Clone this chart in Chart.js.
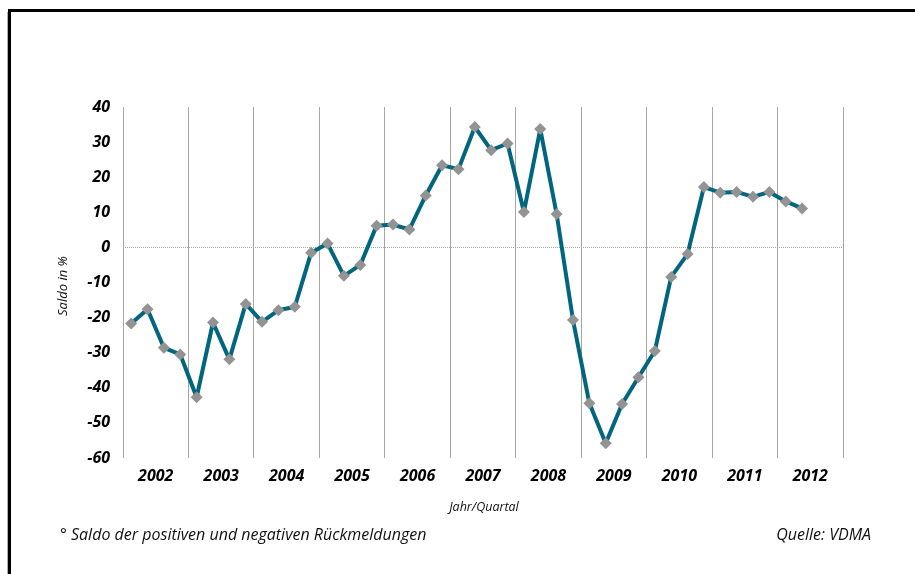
<!DOCTYPE html>
<html>
<head>
<meta charset="utf-8">
<script src="https://cdn.jsdelivr.net/npm/chart.js@4/dist/chart.umd.min.js"></script>
<style>
  html, body { margin: 0; padding: 0; background: #fff; }
  #wrap { position: relative; width: 915px; height: 574px; }
</style>
</head>
<body>
<div id="wrap"><canvas id="chart" width="915" height="574"></canvas></div>
<script>
// Jahre (Achsenbeschriftung) und Quartale 2002 Q1 - 2012 Q4
const years = ['2002', '2003', '2004', '2005', '2006', '2007', '2008', '2009', '2010', '2011', '2012'];
const quarters = years.flatMap(y => ['Q1', 'Q2', 'Q3', 'Q4'].map(q => y + ' ' + q));

// Saldo in % (bis 2012 Q2)
const saldo = [
  -21.7, -17.6, -28.6, -30.5,
  -42.7, -21.4, -31.9, -16.1,
  -21.2, -17.9, -16.9, -1.5,
  1.1, -8.1, -5.0, 6.2,
  6.5, 5.1, 14.8, 23.4,
  22.3, 34.3, 27.7, 29.6,
  10.1, 33.7, 9.5, -20.7,
  -44.4, -55.8, -44.6, -37.0,
  -29.5, -8.4, -1.9, 17.2,
  15.6, 15.8, 14.4, 15.8,
  13.1, 11.1
];

const yTicks = [40, 30, 20, 10, 0, -10, -20, -30, -40, -50, -60];

const footnote = '\u00B0 Saldo der positiven und negativen R\u00FCckmeldungen';
const source = 'Quelle: VDMA';
const xTitle = 'Jahr/Quartal';
const yTitle = 'Saldo in %';

const fontFamily = '"Open Sans", "DejaVu Sans", sans-serif';

// Rahmen und Zusatztexte
const extrasPlugin = {
  id: 'extras',
  beforeDraw(chart) {
    const ctx = chart.ctx;
    ctx.save();
    ctx.fillStyle = '#fff';
    ctx.fillRect(0, 0, chart.width, chart.height);
    ctx.strokeStyle = '#b0b0b0';
    ctx.lineWidth = 1;
    ctx.beginPath();
    ctx.moveTo(7.5, 12);
    ctx.lineTo(7.5, chart.height);
    ctx.stroke();
    ctx.strokeStyle = '#000';
    ctx.lineWidth = 3;
    ctx.beginPath();
    ctx.moveTo(9.5, chart.height);
    ctx.lineTo(9.5, 10.5);
    ctx.lineTo(chart.width, 10.5);
    ctx.stroke();
    ctx.restore();
  },
  afterDraw(chart) {
    const ctx = chart.ctx;
    const area = chart.chartArea;
    ctx.save();
    ctx.fillStyle = '#111';
    ctx.textBaseline = 'middle';

    ctx.font = 'italic 12.5px ' + fontFamily;
    ctx.textAlign = 'center';
    ctx.fillText(xTitle, (area.left + area.right) / 2 + 1, 507);

    ctx.save();
    ctx.translate(63, 286);
    ctx.rotate(-Math.PI / 2);
    ctx.font = 'italic 13px ' + fontFamily;
    ctx.fillText(yTitle, 0, 0);
    ctx.restore();

    ctx.font = 'italic 16px ' + fontFamily;
    ctx.textAlign = 'left';
    ctx.fillText(footnote, 60, 535);
    ctx.textAlign = 'right';
    ctx.fillText(source, 871, 535);
    ctx.restore();
  }
};

new Chart(document.getElementById('chart'), {
  type: 'line',
  data: {
    labels: quarters,
    datasets: [{
      label: yTitle,
      data: saldo,
      borderColor: '#00657f',
      borderWidth: 4,
      borderJoinStyle: 'round',
      borderCapStyle: 'round',
      tension: 0,
      pointStyle: 'rectRot',
      pointRadius: 6,
      pointHoverRadius: 6,
      pointBackgroundColor: '#939393',
      pointBorderWidth: 0
    }]
  },
  options: {
    responsive: false,
    animation: false,
    events: [],
    layout: { padding: { top: 107, right: 72, left: 0, bottom: 0 } },
    plugins: {
      legend: { display: false },
      tooltip: { enabled: false }
    },
    scales: {
      x: {
        type: 'category',
        offset: true,
        afterFit(scale) { scale.height = 116; },
        border: { display: false },
        grid: {
          offset: true,
          drawTicks: false,
          lineWidth: 1,
          color: c => (c.index === undefined || c.index % 4 === 0) ? '#a6a6a6' : 'rgba(0,0,0,0)'
        },
        ticks: {
          autoSkip: false,
          maxRotation: 0,
          minRotation: 0,
          padding: 9,
          labelOffset: 8.2,
          color: '#000',
          font: { family: fontFamily, size: 16, weight: 'bold', style: 'italic' },
          callback: (v, i) => i % 4 === 1 ? years[Math.floor(i / 4)] : ''
        }
      },
      y: {
        min: -60,
        max: 40,
        afterFit(scale) { scale.width = 123; },
        afterBuildTicks(scale) { scale.ticks = yTicks.map(v => ({ value: v })); },
        border: { display: false, dash: [1, 1] },
        grid: {
          drawTicks: false,
          lineWidth: 1,
          color: c => c.tick && c.tick.value === 0 ? '#a8a8a8' : 'rgba(0,0,0,0)'
        },
        ticks: {
          padding: 13,
          color: '#000',
          font: { family: fontFamily, size: 16, weight: 'bold', style: 'italic' }
        }
      }
    }
  },
  plugins: [extrasPlugin]
});
</script>
</body>
</html>
